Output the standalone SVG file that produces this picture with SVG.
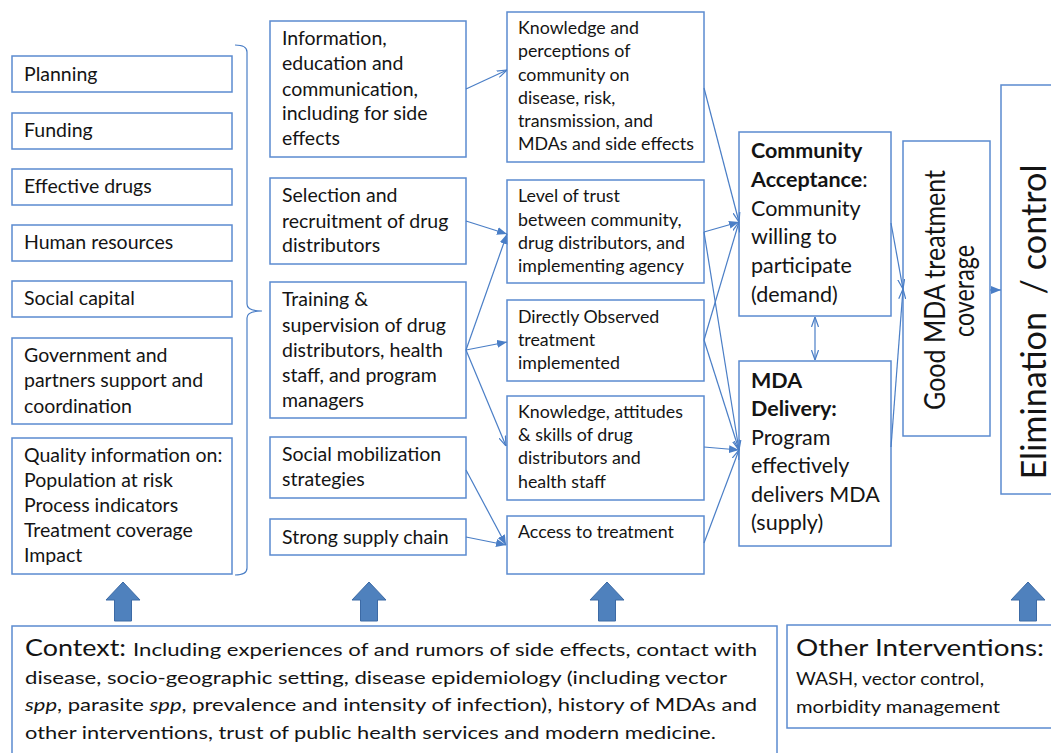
<svg xmlns="http://www.w3.org/2000/svg" width="1051" height="753" viewBox="0 0 1051 753">
<style>
.box{fill:#fff;stroke:#5b8bd0;stroke-width:1.5}
.t{font-family:Lato,"Liberation Sans",sans-serif;fill:#141414}
.c1{font-size:19.5px}
.c3{font-size:17.8px}
.c4{font-size:21.5px}
.b{font-weight:bold}
.con{fill:none;stroke:#4a7ec6;stroke-width:1.2}
.blk{fill:#4f81bd;stroke:#3c6aa5;stroke-width:1}
</style>
<defs>
<marker id="af" viewBox="0 0 10 8" refX="10" refY="4" markerWidth="10" markerHeight="8" markerUnits="userSpaceOnUse" orient="auto"><path d="M0,0 L10,4 L0,8 z" fill="#4a7ec6"/></marker>
<marker id="ao" viewBox="0 0 10 8" refX="10" refY="4" markerWidth="10" markerHeight="8" markerUnits="userSpaceOnUse" orient="auto-start-reverse"><path d="M0,0.5 L10,4 L0,7.5" fill="none" stroke="#4a7ec6" stroke-width="1.2"/></marker>
</defs>
<rect width="1051" height="753" fill="#fff"/>

<g id="planning"><rect class="box" x="12" y="56" width="220" height="36"/><text class="t c1" x="24" y="81">Planning</text></g>
<g id="funding"><rect class="box" x="12" y="113" width="220" height="36"/><text class="t c1" x="24" y="137">Funding</text></g>
<g id="drugs"><rect class="box" x="12" y="169" width="220" height="36"/><text class="t c1" x="24" y="193">Effective drugs</text></g>
<g id="human"><rect class="box" x="12" y="225" width="220" height="36"/><text class="t c1" x="24" y="249">Human resources</text></g>
<g id="social-capital"><rect class="box" x="12" y="281" width="220" height="36"/><text class="t c1" x="24" y="305">Social capital</text></g>
<g id="government"><rect class="box" x="12" y="338" width="220" height="86"/><text class="t c1" x="24" y="362">Government and</text><text class="t c1" x="24" y="387">partners support and</text><text class="t c1" x="24" y="413">coordination</text></g>
<g id="quality"><rect class="box" x="12" y="438" width="220" height="136"/><text class="t c1" x="24" y="462">Quality information on:</text><text class="t c1" x="24" y="487">Population at risk</text><text class="t c1" x="24" y="512">Process indicators</text><text class="t c1" x="24" y="537">Treatment coverage</text><text class="t c1" x="24" y="562">Impact</text></g>

<g id="bracket"><path class="con" d="M235,45 Q247,45 247,52 L247,304 Q247,311 262,311 Q247,311 247,318 L247,568 Q247,575 235,575"/></g>

<g id="iec"><rect class="box" x="270" y="21" width="196" height="136"/><text class="t c1" x="282" y="45">Information,</text><text class="t c1" x="282" y="70">education and</text><text class="t c1" x="282" y="96">communication,</text><text class="t c1" x="282" y="120">including for side</text><text class="t c1" x="282" y="145">effects</text></g>
<g id="selection"><rect class="box" x="270" y="178" width="196" height="86"/><text class="t c1" x="282" y="202">Selection and</text><text class="t c1" x="282" y="228">recruitment of drug</text><text class="t c1" x="282" y="252">distributors</text></g>
<g id="training"><rect class="box" x="270" y="282" width="196" height="136"/><text class="t c1" x="282" y="306">Training &amp;</text><text class="t c1" x="282" y="332">supervision of drug</text><text class="t c1" x="282" y="357">distributors, health</text><text class="t c1" x="282" y="382">staff, and program</text><text class="t c1" x="282" y="407">managers</text></g>
<g id="mobilization"><rect class="box" x="270" y="437" width="196" height="61"/><text class="t c1" x="282" y="461">Social mobilization</text><text class="t c1" x="282" y="486">strategies</text></g>
<g id="supply"><rect class="box" x="270" y="519" width="196" height="36"/><text class="t c1" x="282" y="544">Strong supply chain</text></g>

<g id="knowledge"><rect class="box" x="507" y="12" width="197" height="150"/><text class="t c3" x="518" y="34">Knowledge and</text><text class="t c3" x="518" y="57">perceptions of</text><text class="t c3" x="518" y="81">community on</text><text class="t c3" x="518" y="104">disease, risk,</text><text class="t c3" x="518" y="127">transmission, and</text><text class="t c3" x="518" y="150">MDAs and side effects</text></g>
<g id="trust"><rect class="box" x="507" y="180" width="197" height="103"/><text class="t c3" x="518" y="202">Level of trust</text><text class="t c3" x="518" y="226">between community,</text><text class="t c3" x="518" y="249">drug distributors, and</text><text class="t c3" x="518" y="272">implementing agency</text></g>
<g id="dot"><rect class="box" x="507" y="300" width="197" height="81"/><text class="t c3" x="518" y="323">Directly Observed</text><text class="t c3" x="518" y="346">treatment</text><text class="t c3" x="518" y="369">implemented</text></g>
<g id="kas"><rect class="box" x="507" y="396" width="197" height="104"/><text class="t c3" x="518" y="418">Knowledge, attitudes</text><text class="t c3" x="518" y="441">&amp; skills of drug</text><text class="t c3" x="518" y="464">distributors and</text><text class="t c3" x="518" y="488">health staff</text></g>
<g id="access"><rect class="box" x="507" y="516" width="197" height="58"/><text class="t c3" x="518" y="538">Access to treatment</text></g>

<g id="acceptance"><rect class="box" x="739" y="132" width="152" height="184"/><text class="t c4 b" x="751" y="158">Community</text><text class="t c4" x="751" y="187"><tspan class="b">Acceptance</tspan>:</text><text class="t c4" x="751" y="216">Community</text><text class="t c4" x="751" y="244">willing to</text><text class="t c4" x="751" y="273">participate</text><text class="t c4" x="751" y="302">(demand)</text></g>
<g id="delivery"><rect class="box" x="739" y="361" width="152" height="185"/><text class="t c4 b" x="751" y="388">MDA</text><text class="t c4 b" x="751" y="416">Delivery:</text><text class="t c4" x="751" y="445">Program</text><text class="t c4" x="751" y="473">effectively</text><text class="t c4" x="751" y="502">delivers MDA</text><text class="t c4" x="751" y="530">(supply)</text></g>

<g id="coverage"><rect class="box" x="903" y="141" width="87" height="295"/><text class="t" font-size="28" text-anchor="middle" textLength="240" lengthAdjust="spacingAndGlyphs" transform="translate(945,290) rotate(-90)">Good MDA treatment</text><text class="t" font-size="28" text-anchor="middle" textLength="92" lengthAdjust="spacingAndGlyphs" transform="translate(974,291) rotate(-90)">coverage</text></g>
<g id="elimination"><rect class="box" x="1001" y="85" width="70" height="409"/><text class="t" font-size="35" text-anchor="middle" textLength="315" lengthAdjust="spacingAndGlyphs" transform="translate(1046,322) rotate(-90)" xml:space="preserve">Elimination  / control</text></g>

<g id="connectors">
<line class="con" x1="466" y1="89" x2="507" y2="70" marker-end="url(#ao)"/>
<line class="con" x1="466" y1="221" x2="507" y2="234" marker-end="url(#af)"/>
<line class="con" x1="466" y1="350" x2="507" y2="234" marker-end="url(#af)"/>
<line class="con" x1="466" y1="350" x2="507" y2="342" marker-end="url(#af)"/>
<line class="con" x1="466" y1="350" x2="506" y2="446" marker-end="url(#ao)"/>
<line class="con" x1="466" y1="470" x2="506" y2="545" marker-end="url(#af)"/>
<line class="con" x1="466" y1="537" x2="506" y2="545" marker-end="url(#af)"/>
<line class="con" x1="704" y1="88" x2="739" y2="222" marker-end="url(#ao)"/>
<line class="con" x1="704" y1="232" x2="739" y2="222" marker-end="url(#af)"/>
<line class="con" x1="704" y1="340" x2="739" y2="222" marker-end="url(#ao)"/>
<line class="con" x1="704" y1="232" x2="739" y2="450" marker-end="url(#ao)"/>
<line class="con" x1="704" y1="340" x2="739" y2="450" marker-end="url(#ao)"/>
<line class="con" x1="704" y1="447" x2="739" y2="450" marker-end="url(#af)"/>
<line class="con" x1="704" y1="543" x2="739" y2="450" marker-end="url(#ao)"/>
<line class="con" x1="815" y1="317" x2="815" y2="360" marker-start="url(#ao)" marker-end="url(#ao)"/>
<line class="con" x1="891" y1="223" x2="903" y2="289" marker-end="url(#ao)"/>
<line class="con" x1="891" y1="447" x2="903" y2="289" marker-end="url(#ao)"/>
<line class="con" x1="990" y1="290" x2="1001" y2="290" marker-end="url(#af)"/>
</g>

<g id="block-arrows">
<polygon class="blk" points="123,582 140,600 131.5,600 131.5,621 114.5,621 114.5,600 106,600"/>
<polygon class="blk" points="369,582 386,600 377.5,600 377.5,621 360.5,621 360.5,600 352,600"/>
<polygon class="blk" points="607,582 624,600 615.5,600 615.5,621 598.5,621 598.5,600 590,600"/>
<polygon class="blk" points="1028,582 1045,600 1036.5,600 1036.5,621 1019.5,621 1019.5,600 1011,600"/>
</g>

<g id="context"><rect class="box" x="12" y="626" width="765" height="150"/>
<text class="t" font-size="23" x="25" y="656" textLength="101" lengthAdjust="spacingAndGlyphs">Context:</text>
<text class="t" font-size="17.5" x="133" y="656" textLength="624" lengthAdjust="spacingAndGlyphs">Including experiences of and rumors of side effects, contact with</text>
<text class="t" font-size="17.5" x="25" y="684" textLength="702" lengthAdjust="spacingAndGlyphs">disease, socio-geographic setting, disease epidemiology (including vector</text>
<text class="t" font-size="17.5" x="25" y="711" textLength="732" lengthAdjust="spacingAndGlyphs"><tspan font-style="italic">spp</tspan>, parasite <tspan font-style="italic">spp</tspan>, prevalence and intensity of infection), history of MDAs and</text>
<text class="t" font-size="17.5" x="25" y="739" textLength="691" lengthAdjust="spacingAndGlyphs">other interventions, trust of public health services and modern medicine.</text>
</g>
<g id="other"><rect class="box" x="787" y="625" width="290" height="103"/>
<text class="t" font-size="23" x="796" y="656" textLength="248" lengthAdjust="spacingAndGlyphs">Other Interventions:</text>
<text class="t" font-size="18" x="796" y="685" textLength="188" lengthAdjust="spacingAndGlyphs">WASH, vector control,</text>
<text class="t" font-size="18" x="796" y="713" textLength="204" lengthAdjust="spacingAndGlyphs">morbidity management</text>
</g>
</svg>
